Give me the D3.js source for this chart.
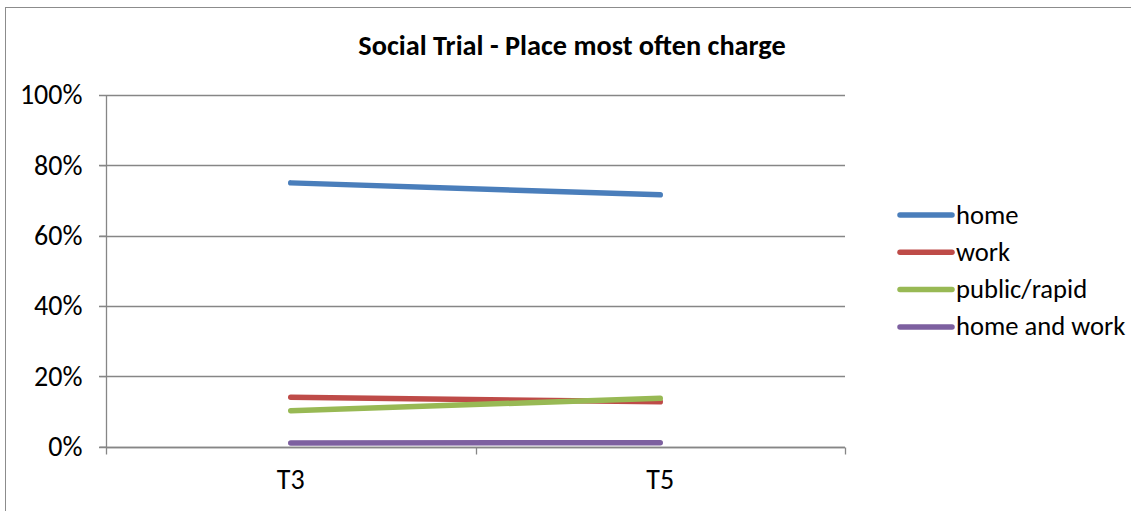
<!DOCTYPE html>
<html><head><meta charset="utf-8">
<script src="https://cdn.jsdelivr.net/npm/d3@7"></script>
<style>body{margin:0;background:#fff}svg{display:block;font-family:Carlito,Calibri,"Open Sans",sans-serif}</style>
</head><body><svg id="c" width="1131" height="511"></svg>
<script>
const categories = ["T3", "T5"];
const seriesNames = ["home", "work", "public/rapid", "home and work"];
const homeVals = [0.750, 0.716];
const workVals = [0.140, 0.127];
const publicVals = [0.102, 0.137];
const homeWorkVals = [0.010, 0.011];
const yTicks = [0, 0.2, 0.4, 0.6, 0.8, 1.0];
const colors = ["#4A7EBB", "#BE4B48", "#98B954", "#7D60A0"];
const title = "Social Trial - Place most often charge";

const series = [homeVals, workVals, publicVals, homeWorkVals].map((v, i) => ({name: seriesNames[i], values: v, color: colors[i]}));

const svg = d3.select("#c");
svg.append("rect").attr("x", 5.5).attr("y", 7.5).attr("width", 1140).attr("height", 520)
  .attr("fill", "#fff").attr("stroke", "#8c8c8c").attr("stroke-width", 1);

const L = 106, R = 845, T = 95, B = 446.5;
const AFS = 28, LFS = 26.6;
const x = d3.scaleBand().domain(categories).range([L, R]);
const y = d3.scaleLinear().domain([0, 1]).range([B, T]);

// gridlines
svg.append("g").selectAll("line").data(yTicks).join("line")
  .attr("x1", L - 7).attr("x2", R).attr("y1", d => Math.round(y(d)) + 0.5).attr("y2", d => Math.round(y(d)) + 0.5)
  .attr("stroke", "#868686").attr("stroke-width", 1.3);

// y axis
const yAxis = svg.append("g").attr("transform", `translate(${L + 0.5},0)`)
  .call(d3.axisLeft(y).tickValues(yTicks).tickFormat(d3.format(".0%")).tickSize(7).tickPadding(17));
yAxis.select(".domain").attr("stroke", "#868686").attr("stroke-width", 1.3).attr("d", `M0,${T}V${B + 0.5}`);
yAxis.selectAll(".tick line").attr("stroke", "#868686");
yAxis.selectAll("text").attr("font-size", AFS).attr("fill", "#000").attr("font-family", "Carlito,Calibri,'Open Sans',sans-serif");

// x axis
const xAxis = svg.append("g").attr("transform", `translate(0,${Math.round(B) + 0.5})`);
xAxis.append("line").attr("x1", L).attr("x2", R).attr("stroke", "#868686").attr("stroke-width", 1.3);
xAxis.selectAll(".xt").data([0, 1, 2]).join("line")
  .attr("x1", (d) => Math.round(x.range()[0] + d * x.bandwidth()) + 0.5)
  .attr("x2", (d) => Math.round(x.range()[0] + d * x.bandwidth()) + 0.5)
  .attr("y1", 0).attr("y2", 7).attr("stroke", "#868686").attr("stroke-width", 1.3);
xAxis.selectAll("text").data(categories).join("text")
  .attr("x", d => x(d) + x.bandwidth() / 2).attr("y", 41)
  .attr("text-anchor", "middle").attr("font-size", AFS).attr("fill", "#000").text(d => d);

// lines
const line = d3.line().x((d, i) => x(categories[i]) + x.bandwidth() / 2).y(d => y(d));
svg.append("g").selectAll("path").data(series).join("path")
  .attr("d", d => line(d.values)).attr("fill", "none").attr("stroke", d => d.color)
  .attr("stroke-width", 5.5).attr("stroke-linecap", "round");

// legend
const lg = svg.append("g");
const rows = lg.selectAll("g").data(series).join("g").attr("transform", (d, i) => `translate(0,${215 + i * 37.3})`);
rows.append("line").attr("x1", 900).attr("x2", 952).attr("stroke", d => d.color).attr("stroke-width", 5.5).attr("stroke-linecap", "round");
rows.append("text").attr("x", 956).attr("y", 8.5).attr("font-size", LFS).attr("fill", "#000").text(d => d.name);

// title
svg.append("text").attr("x", 572).attr("y", 55).attr("text-anchor", "middle")
  .attr("font-size", 28.3).attr("font-weight", "bold").attr("fill", "#000").text(title);
</script></body></html>
